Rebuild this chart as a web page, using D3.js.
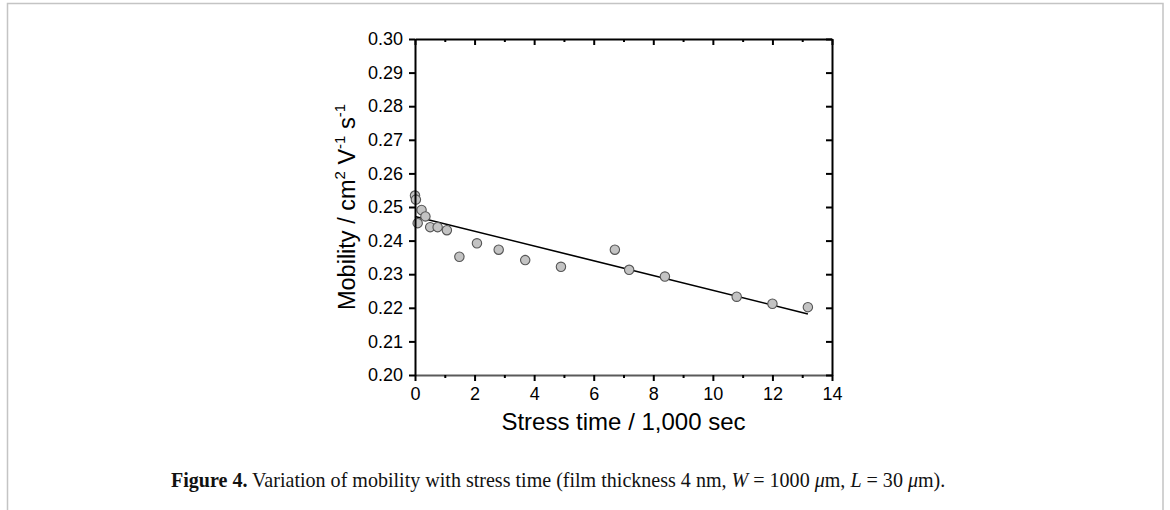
<!DOCTYPE html>
<html>
<head>
<meta charset="utf-8">
<script src="https://cdn.jsdelivr.net/npm/d3@7"></script>
<style>
  body { margin: 0; background: #fff; }
  svg { display: block; }
</style>
</head>
<body>
<div id="chart-area"></div>
<script>
// values (stress time in 1,000 s, mobility in cm2/Vs)
const stressTime = [0, 0.03, 0.09, 0.22, 0.35, 0.51, 0.76, 1.07, 1.49, 2.08, 2.81, 3.70, 4.90, 6.71, 7.19, 8.39, 10.8, 12.0, 13.19];
const mobility = [0.2534, 0.2522, 0.2452, 0.2491, 0.2472, 0.2440, 0.2440, 0.2431, 0.2352, 0.2392, 0.2373, 0.2342, 0.2322, 0.2373, 0.2313, 0.2293, 0.2233, 0.2212, 0.2202];
const fitIntercept = 0.2472;
const fitSlope = -0.0022;
const xTicks = [0, 2, 4, 6, 8, 10, 12, 14];
const xMinorTicks = [1, 3, 5, 7, 9, 11, 13];
const yTicks = [0.20, 0.21, 0.22, 0.23, 0.24, 0.25, 0.26, 0.27, 0.28, 0.29, 0.30];

const W = 1170, H = 510;
const margin = {left: 415, top: 39, right: 338, bottom: 135};
const width = W - margin.left - margin.right;
const height = H - margin.top - margin.bottom;

const svg = d3.select('#chart-area')
    .append('svg')
    .attr('width', W)
    .attr('height', H);

// page frame
svg.append('path')
    .attr('d', `M7.5,${H} V3.5 H1163 V${H}`)
    .attr('fill', 'none')
    .attr('stroke', '#c4c4c4')
    .attr('stroke-width', 1.5);

const g = svg.append('g')
    .attr('transform', `translate(${margin.left}, ${margin.top})`);

const x = d3.scaleLinear().domain([0, 14]).range([0, width]);
const y = d3.scaleLinear().domain([0.20, 0.30]).range([height, 0]);

const font = 'Liberation Sans, Arial, sans-serif';

// fit line
const x0 = d3.min(stressTime), x1 = d3.max(stressTime);
g.append('line')
    .attr('x1', x(x0)).attr('y1', y(fitIntercept + fitSlope * x0))
    .attr('x2', x(x1)).attr('y2', y(fitIntercept + fitSlope * x1))
    .attr('stroke', '#000')
    .attr('stroke-width', 1.6);

// points
g.selectAll('circle.pt')
    .data(stressTime.map((t, i) => ({t, m: mobility[i]})))
    .enter()
    .append('circle')
        .attr('class', 'pt')
        .attr('cx', d => x(d.t))
        .attr('cy', d => y(d.m))
        .attr('r', 4.7)
        .attr('fill', '#c3c3c3')
        .attr('stroke', '#555')
        .attr('stroke-width', 1.1);

// axes
const styleAxis = (sel, color) => {
    sel.select('.domain').attr('stroke', color).attr('stroke-width', 2);
    sel.selectAll('.tick line').attr('stroke', '#000').attr('stroke-width', 2);
    sel.selectAll('text').attr('font-family', font).attr('font-size', '18px').attr('fill', '#000');
};

g.append('g')
    .attr('class', 'x axis')
    .attr('transform', `translate(0, ${height})`)
    .call(d3.axisBottom(x).tickValues(xTicks).tickSize(6).tickSizeOuter(0).tickPadding(6).tickFormat(d3.format('d')))
    .call(s => styleAxis(s, '#5a5a5a'));

g.append('g')
    .attr('class', 'x minor')
    .attr('transform', `translate(0, ${height})`)
    .call(d3.axisBottom(x).tickValues(xMinorTicks).tickSize(3).tickSizeOuter(0).tickFormat(''))
    .call(s => { s.select('.domain').remove(); s.selectAll('line').attr('stroke', '#000').attr('stroke-width', 2); });

g.append('g')
    .attr('class', 'x top')
    .call(d3.axisTop(x).tickValues(xTicks).tickSize(-6).tickSizeOuter(0).tickFormat(''))
    .call(s => styleAxis(s, '#000'));

g.append('g')
    .attr('class', 'x top minor')
    .call(d3.axisTop(x).tickValues(xMinorTicks).tickSize(-3).tickSizeOuter(0).tickFormat(''))
    .call(s => { s.select('.domain').remove(); s.selectAll('line').attr('stroke', '#000').attr('stroke-width', 2); });

g.append('g')
    .attr('class', 'y axis')
    .call(d3.axisLeft(y).tickValues(yTicks).tickSize(6).tickSizeOuter(0).tickPadding(6).tickFormat(d3.format('.2f')))
    .call(s => styleAxis(s, '#000'));

g.append('g')
    .attr('class', 'y right')
    .attr('transform', `translate(${width}, 0)`)
    .call(d3.axisRight(y).tickValues(yTicks).tickSize(-6).tickSizeOuter(0).tickFormat(''))
    .call(s => styleAxis(s, '#000'));

// axis titles
g.append('text')
    .attr('x', width / 2)
    .attr('y', height + 55)
    .attr('text-anchor', 'middle')
    .attr('font-family', font)
    .attr('font-size', '24px')
    .text('Stress time / 1,000 sec');

const yLab = g.append('text')
    .attr('transform', `translate(-60, ${height / 2}) rotate(-90)`)
    .attr('text-anchor', 'middle')
    .attr('font-family', font)
    .attr('font-size', '23.5px');
yLab.append('tspan').text('Mobility / cm');
yLab.append('tspan').attr('font-size', '15px').attr('dy', -10).text('2');
yLab.append('tspan').attr('dy', 10).text(' V');
yLab.append('tspan').attr('font-size', '15px').attr('dy', -10).text('-1');
yLab.append('tspan').attr('dy', 10).text(' s');
yLab.append('tspan').attr('font-size', '15px').attr('dy', -10).text('-1');

// caption
const cap = svg.append('text')
    .attr('x', 171)
    .attr('y', 487)
    .attr('font-family', 'Liberation Serif, Times New Roman, serif')
    .attr('font-size', '18px')
    .attr('fill', '#111');
cap.append('tspan').attr('font-weight', 'bold').text('Figure 4.');
cap.append('tspan').text(' Variation of mobility with stress time (film thickness 4 nm, ');
cap.append('tspan').attr('font-style', 'italic').text('W');
cap.append('tspan').text(' = 1000 ');
cap.append('tspan').attr('font-style', 'italic').text('μ');
cap.append('tspan').text('m, ');
cap.append('tspan').attr('font-style', 'italic').text('L');
cap.append('tspan').text(' = 30 ');
cap.append('tspan').attr('font-style', 'italic').text('μ');
cap.append('tspan').text('m).');
// fit caption to its width in the figure
const capW = cap.node().getComputedTextLength();
cap.attr('font-size', (18 * 775 / capW).toFixed(2) + 'px');
</script>
</body>
</html>
